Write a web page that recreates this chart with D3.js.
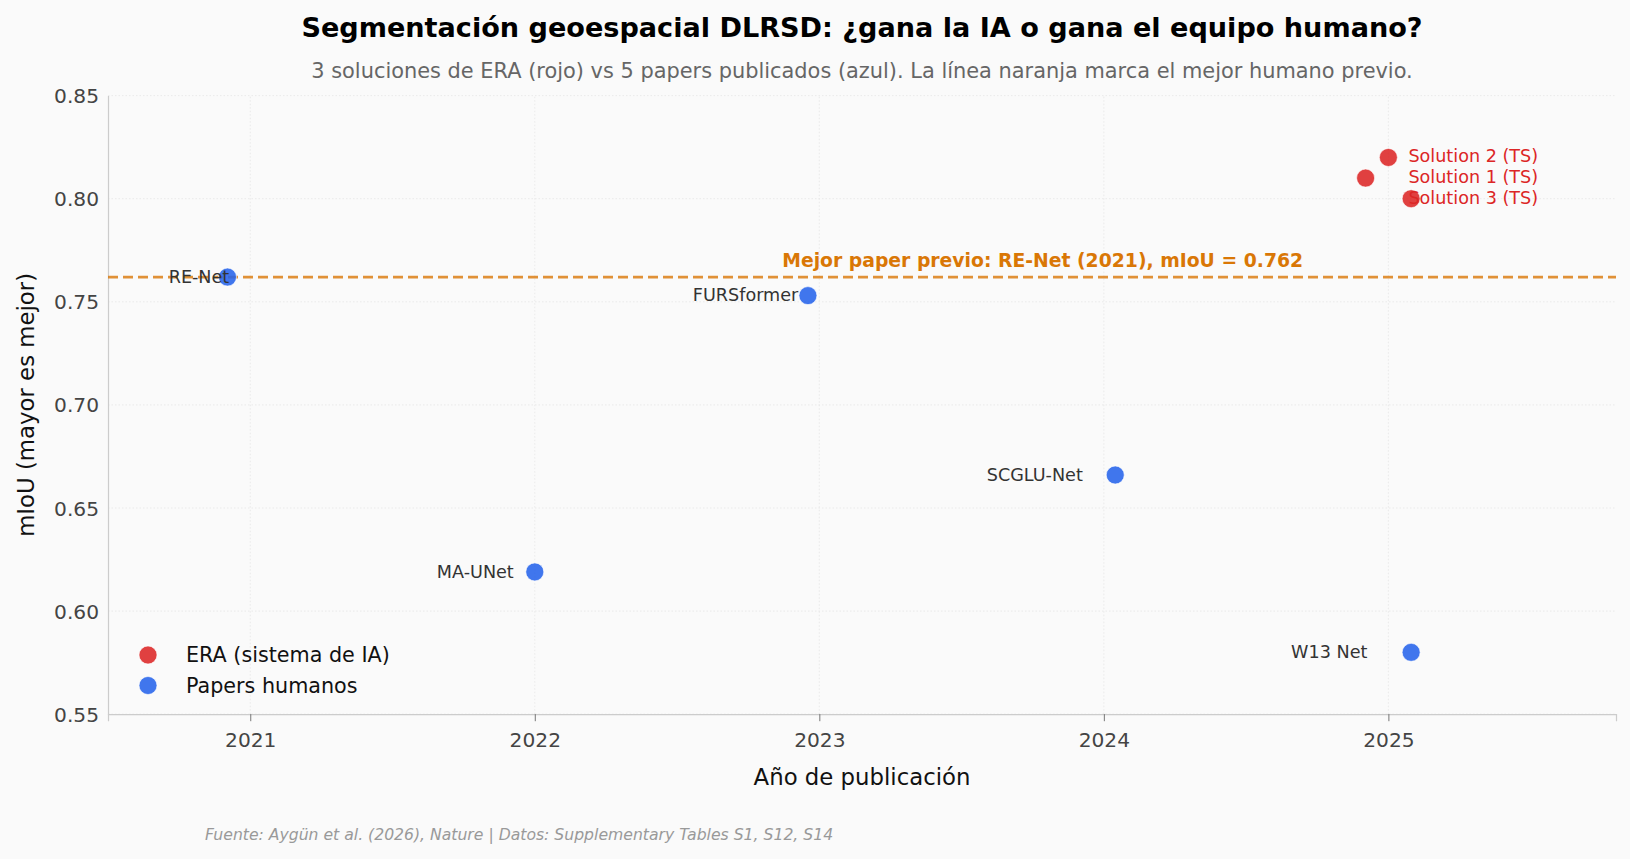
<!DOCTYPE html>
<html><head><meta charset="utf-8">
<script src="https://cdn.jsdelivr.net/npm/d3@7"></script>
<style>
html,body{margin:0;padding:0;background:#fafafa;}
svg{display:block;font-family:"DejaVu Sans",sans-serif;}
</style></head><body>
<svg id="c" width="1630" height="859"></svg>
<script>
// ---- data ----
const eraNames = ["Solution 1 (TS)", "Solution 2 (TS)", "Solution 3 (TS)"];
const eraX = [2024.92, 2025.0, 2025.08];
const eraY = [0.810, 0.820, 0.800];

const humanNames = ["RE-Net", "MA-UNet", "FURSformer", "SCGLU-Net", "W13 Net"];
const humanYears = [2021, 2022, 2023, 2024, 2025];
const humanX = [2020.92, 2022.0, 2022.96, 2024.04, 2025.08];
const humanY = [0.762, 0.619, 0.753, 0.666, 0.580];

const bestHuman = 0.762;
const xTicks = [2021, 2022, 2023, 2024, 2025];
const yTicks = [0.55, 0.60, 0.65, 0.70, 0.75, 0.80, 0.85];

const title = "Segmentación geoespacial DLRSD: ¿gana la IA o gana el equipo humano?";
const subtitle = "3 soluciones de ERA (rojo) vs 5 papers publicados (azul). La línea naranja marca el mejor humano previo.";
const source = "Fuente: Aygün et al. (2026), Nature | Datos: Supplementary Tables S1, S12, S14";
const bestLabel = "Mejor paper previo: RE-Net (2021), mIoU = 0.762";
const legendLabels = ["ERA (sistema de IA)", "Papers humanos"];

// ---- layout ----
const svg = d3.select("#c");
const W = 1630, H = 859;
const m = {left: 108, right: 14, top: 95.6, bottom: 145};
const x = d3.scaleLinear().domain([2020.5, 2025.8]).range([m.left, W - m.right]);
const y = d3.scaleLinear().domain([0.55, 0.85]).range([714.2, m.top]);

const RED = "#dc2626", BLUE = "#2563eb", ORANGE = "#d97706";

svg.append("rect").attr("width", W).attr("height", H).attr("fill", "#fafafa");

// grid
const g = svg.append("g");
g.selectAll(".gx").data(xTicks).join("line")
  .attr("x1", d => x(d)).attr("x2", d => x(d)).attr("y1", y(0.55)).attr("y2", y(0.85))
  .attr("stroke", "#e6e6e6").attr("stroke-width", 0.8).attr("stroke-dasharray", "1.5 2");
g.selectAll(".gy").data(yTicks).join("line")
  .attr("x1", x(2020.5)).attr("x2", x(2025.8)).attr("y1", d => y(d)).attr("y2", d => y(d))
  .attr("stroke", "#e6e6e6").attr("stroke-width", 0.8).attr("stroke-dasharray", "1.5 2");

// axes
const xAxis = svg.append("g").attr("transform", `translate(0,${y(0.55)})`)
  .call(d3.axisBottom(x).tickValues(xTicks).tickFormat(d3.format("d")).tickSize(7).tickPadding(11));
const yAxis = svg.append("g").attr("transform", `translate(${x(2020.5)},0)`)
  .call(d3.axisLeft(y).tickValues(yTicks).tickFormat(d3.format(".2f")).tickSize(0).tickPadding(9));
[xAxis, yAxis].forEach(a => {
  a.select(".domain").attr("stroke", "#cccccc").attr("stroke-width", 1.2);
  a.selectAll(".tick line").attr("stroke", "#555").attr("stroke-width", 0.8);
  a.selectAll(".tick text").attr("fill", "#444").attr("font-size", 20.2).attr("font-family", "DejaVu Sans");
});
yAxis.selectAll(".tick text").attr("dy", "0.35em");

// best human line
svg.append("line")
  .attr("x1", x(2020.5)).attr("x2", x(2025.8)).attr("y1", y(bestHuman)).attr("y2", y(bestHuman))
  .attr("stroke", ORANGE).attr("stroke-opacity", 0.8).attr("stroke-width", 2.8).attr("stroke-dasharray", "10 5");
svg.append("text").attr("x", x(2023.785)).attr("y", y(bestHuman) - 10)
  .attr("text-anchor", "middle").attr("font-weight", "bold").attr("font-size", 18.8)
  .attr("fill", ORANGE).text(bestLabel);

// points
function dots(xs, ys, color) {
  svg.append("g").selectAll("circle").data(xs.map((d, i) => [d, ys[i]])).join("circle")
    .attr("cx", d => x(d[0])).attr("cy", d => y(d[1])).attr("r", 9)
    .attr("fill", color).attr("fill-opacity", 0.88)
    .attr("stroke", "#fff").attr("stroke-width", 0.6);
}
dots(eraX, eraY, RED);
dots(humanX, humanY, BLUE);

// labels
svg.append("g").selectAll("text").data(humanNames).join("text")
  .attr("x", (d, i) => x(humanYears[i]) - 21).attr("y", (d, i) => y(humanY[i]))
  .attr("dy", "0.32em").attr("text-anchor", "end").attr("font-size", 17.6).attr("fill", "#333")
  .text(d => d);
svg.append("g").selectAll("text").data(eraNames).join("text")
  .attr("x", x(2025) + 20).attr("y", (d, i) => y(eraY[i]))
  .attr("dy", "0.28em").attr("text-anchor", "start").attr("font-size", 17.6).attr("fill", RED)
  .text(d => d);

// legend
const leg = svg.append("g");
[RED, BLUE].forEach((c, i) => {
  const ly = 655 + i * 30.5;
  leg.append("circle").attr("cx", 148).attr("cy", ly).attr("r", 9).attr("fill", c).attr("fill-opacity", 0.88)
    .attr("stroke", "#fff").attr("stroke-width", 0.6);
  leg.append("text").attr("x", 186).attr("y", ly).attr("dy", "0.35em").attr("font-size", 20.7)
    .attr("fill", "#111").text(legendLabels[i]);
});

// titles
svg.append("text").attr("x", 862).attr("y", 28).attr("dy", "0.35em").attr("text-anchor", "middle")
  .attr("font-weight", "bold").attr("font-size", 27.1).attr("fill", "#000").text(title);
svg.append("text").attr("x", 862).attr("y", 70.5).attr("dy", "0.35em").attr("text-anchor", "middle")
  .attr("font-size", 20.9).attr("fill", "#666").text(subtitle);
svg.append("text").attr("x", 862).attr("y", 777.5).attr("dy", "0.35em").attr("text-anchor", "middle")
  .attr("font-size", 22.8).attr("fill", "#111").text("Año de publicación");
svg.append("text").attr("transform", `translate(26,${(y(0.55) + y(0.85)) / 2}) rotate(-90)`)
  .attr("dy", "0.35em").attr("text-anchor", "middle")
  .attr("font-size", 22.8).attr("fill", "#111").text("mIoU (mayor es mejor)");
svg.append("text").attr("x", 205).attr("y", 834.7).attr("dy", "0.35em")
  .attr("font-size", 15.65).attr("font-style", "italic").attr("fill", "#999").text(source);
</script>
</body></html>
